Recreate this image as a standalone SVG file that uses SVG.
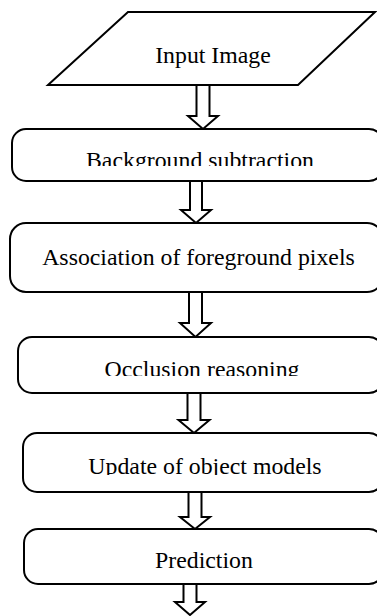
<svg xmlns="http://www.w3.org/2000/svg" width="377" height="616" viewBox="0 0 377 616">
<style>
.shape{fill:#fff;stroke:#000;stroke-width:2}
.arrow{fill:#fff;stroke:#000;stroke-width:2;stroke-linejoin:miter}
.lbl{font-family:'Liberation Serif','Times New Roman',serif;font-size:23.8px;fill:#000;text-anchor:middle}
</style>
<defs>
<clipPath id="c1"><rect x="0" y="130" width="377" height="36"/></clipPath>
<clipPath id="c3"><rect x="0" y="338" width="377" height="38"/></clipPath>
<clipPath id="c4"><rect x="0" y="434" width="377" height="41"/></clipPath>
</defs>
<rect width="377" height="616" fill="#fff"/>
<g id="connectors">
<path class="arrow" d="M196.5,85 V116 H188 L203,129 L218,116 H209.5 V85"/>
<path class="arrow" d="M190,181 V210 H181 L196,223 L211,210 H202 V181"/>
<path class="arrow" d="M189,292 V323 H180 L195.5,337 L211,323 H202 V292"/>
<path class="arrow" d="M187.5,393 V420 H178.5 L194,433 L209.5,420 H200.5 V393"/>
<path class="arrow" d="M188.5,492 V517 H180 L195,529 L210,517 H201.5 V492"/>
<path class="arrow" d="M183.5,584 V602 H175 L190,615 L205,602 H196.5 V584"/>
</g>
<g id="input-image">
<polygon class="shape" points="128,12 375,12 298,85 48,85"/>
<text class="lbl" font-family="Liberation Serif, serif" x="213" y="63">Input Image</text>
</g>
<g id="background-subtraction">
<rect class="shape" x="12" y="129" width="371" height="52" rx="14"/>
<text class="lbl" font-family="Liberation Serif, serif" x="200" y="167.5" clip-path="url(#c1)">Background subtraction</text>
</g>
<g id="association">
<rect class="shape" x="10" y="223" width="373" height="69" rx="16"/>
<text class="lbl" font-family="Liberation Serif, serif" x="198.5" y="265">Association of foreground pixels</text>
</g>
<g id="occlusion-reasoning">
<rect class="shape" x="18" y="337" width="365" height="56" rx="14"/>
<text class="lbl" font-family="Liberation Serif, serif" x="202" y="376.5" clip-path="url(#c3)">Occlusion reasoning</text>
</g>
<g id="update-models">
<rect class="shape" x="23" y="433" width="360" height="59" rx="14"/>
<text class="lbl" font-family="Liberation Serif, serif" x="205" y="474" clip-path="url(#c4)">Update of object models</text>
</g>
<g id="prediction">
<rect class="shape" x="24" y="529" width="359" height="55" rx="14"/>
<text class="lbl" font-family="Liberation Serif, serif" x="204" y="568">Prediction</text>
</g>
</svg>
